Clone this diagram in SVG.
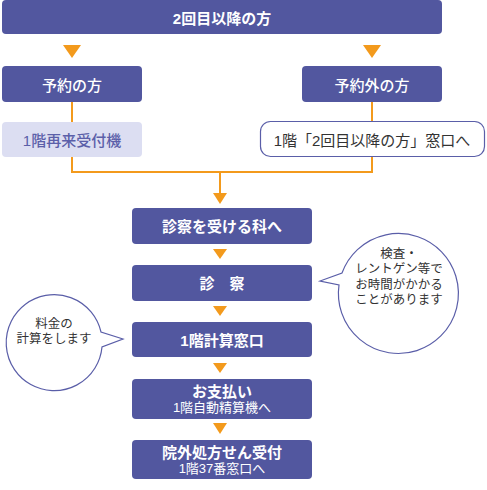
<svg xmlns="http://www.w3.org/2000/svg" width="487" height="490" viewBox="0 0 487 490">
<style>
text{font-family:"Liberation Sans","Noto Sans CJK JP",sans-serif;text-anchor:middle}
.box{fill:#52579f}
.w{fill:#ffffff;font-size:15px;font-weight:500}
.b{font-weight:700}
.s{font-size:13px;font-weight:400}
.line{fill:none;stroke:#f39a1c;stroke-width:2}
.tri{fill:#f39a1c}
.bub{fill:#ffffff;stroke:#5a5ea8;stroke-width:1.2}
.bt{fill:#333333;font-size:12.5px}
</style>
<g id="connectors">
<polygon class="tri" points="63,45 81,45 72,58"/>
<polygon class="tri" points="363,45 381,45 372,58"/>
<polyline class="line" points="72,102 72,122"/>
<polyline class="line" points="372,102 372,122"/>
<polyline class="line" points="72,157 72,172 372,172 372,156"/>
<polyline class="line" points="220,172 220,195"/>
<polygon class="tri" points="213,193 227,193 220,204"/>
<polygon class="tri" points="213,249 227,249 220,259"/>
<polygon class="tri" points="213,306 227,306 220,316"/>
<polygon class="tri" points="213,363 227,363 220,373"/>
<polygon class="tri" points="213,423 227,423 220,434"/>
</g>
<g id="top">
<rect class="box" x="2" y="0" width="440" height="34" rx="4"/>
<text class="w b" x="222" y="24">2回目以降の方</text>
</g>
<g id="reserved">
<rect class="box" x="2" y="66" width="140" height="36" rx="4"/>
<text class="w" x="72" y="91">予約の方</text>
</g>
<g id="unreserved">
<rect class="box" x="302" y="66" width="140" height="36" rx="4"/>
<text class="w" x="372" y="91">予約外の方</text>
</g>
<g id="machine">
<rect x="2" y="122" width="140" height="35" rx="4" fill="#dcdef2"/>
<text x="72" y="146" style="fill:#5b5fa9;font-size:15px;font-weight:500">1階再来受付機</text>
</g>
<g id="counter">
<rect x="260.5" y="121.5" width="224" height="35" rx="10" fill="#ffffff" stroke="#5a5ea8" stroke-width="1.2"/>
<text x="372" y="146" style="fill:#333333;font-size:15px">1階「2回目以降の方」窓口へ</text>
</g>
<g id="dept">
<rect class="box" x="132" y="208" width="180" height="36" rx="4"/>
<text class="w b" x="222" y="232">診察を受ける科へ</text>
</g>
<g id="exam">
<rect class="box" x="132" y="265" width="180" height="36" rx="4"/>
<text class="w b" x="222" y="289">診　察</text>
</g>
<g id="calc">
<rect class="box" x="132" y="322" width="180" height="35" rx="4"/>
<text class="w b" x="222" y="346">1階計算窓口</text>
</g>
<g id="pay">
<rect class="box" x="132" y="379" width="180" height="40" rx="4"/>
<text class="w b" x="222" y="397">お支払い<tspan class="s" x="222" dy="15">1階自動精算機へ</tspan></text>
</g>
<g id="rx">
<rect class="box" x="132" y="440" width="180" height="39" rx="4"/>
<text class="w b" x="222" y="458">院外処方せん受付<tspan class="s" x="222" dy="14.5">1階37番窓口へ</tspan></text>
</g>
<g id="bubble-right">
<path class="bub" d="M342,273 A60,60 0 1 1 339,285 L320,281 Z"/>
<text class="bt" x="399" y="258">検査・<tspan x="399" dy="15.3">レントゲン等で</tspan><tspan x="399" dy="15.3">お時間がかかる</tspan><tspan x="399" dy="15.3">ことがあります</tspan></text>
</g>
<g id="bubble-left">
<path class="bub" d="M101,332 A48,48 0 1 0 102,347 L123,339 Z"/>
<text class="bt" x="54" y="328">料金の<tspan x="54" dy="15">計算をします</tspan></text>
</g>
</svg>
